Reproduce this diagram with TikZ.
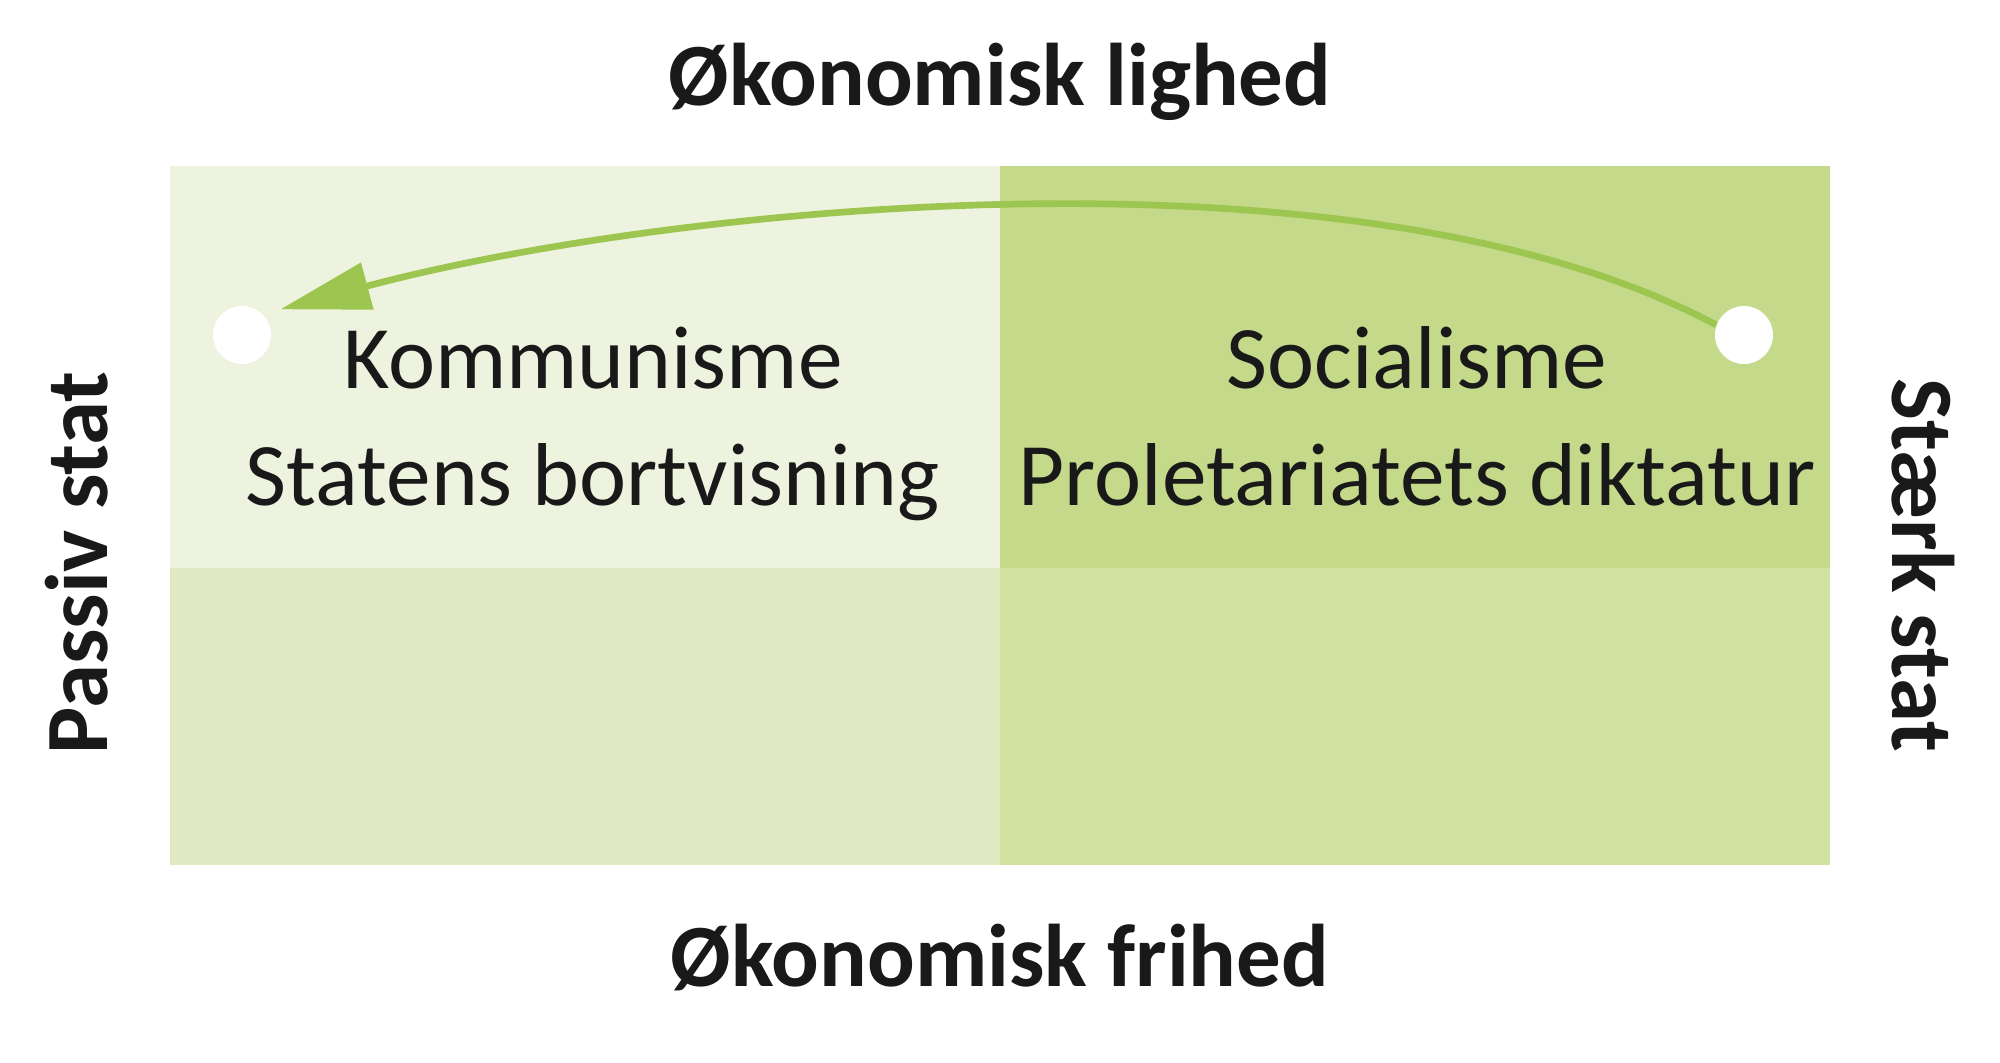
\documentclass[tikz,border=0pt]{standalone}
\usepackage{fontspec}
\setmainfont{Carlito}
\usetikzlibrary{positioning,arrows.meta}

\definecolor{lightgreen}{HTML}{EDF3DF}
\definecolor{midgreen}{HTML}{DFEAC3}
\definecolor{stronggreen}{HTML}{C5D98A}
\definecolor{softgreen}{HTML}{D2E2A1}
\definecolor{arrowgreen}{HTML}{9DC651}

\begin{document}
\begin{tikzpicture}
		% Define styles
		\tikzstyle{quad} = [rectangle, inner sep=0pt, outer sep=0pt, 
		minimum width=8.3cm]
		\tikzstyle{topquad} = [quad, minimum height=4.02cm]
		\tikzstyle{botquad} = [quad, minimum height=2.97cm]
		\tikzstyle{txt} = [align=center, font=\fontsize{25.4}{33.3}\selectfont, 
		text=black!90, inner sep=0pt, anchor=base]
		\tikzstyle{axis} = [font=\fontsize{25.3}{30}\selectfont\bfseries, 
		text=black!90, inner sep=0pt]
		\tikzstyle{dot} = [circle, fill=white, minimum size=0.58cm, inner sep=0pt]
		\tikzstyle{arrow} = [line width=1.9pt, arrowgreen, 
		-{Triangle[length=0.9cm,width=0.47cm]}]
		
		% Global settings
		\tikzstyle{every node}=[node distance=0cm]
		\useasboundingbox (0,0) rectangle (20,10.62);
		
		% Place nodes
		\node [topquad, fill=lightgreen, anchor=north west] (tl) at (1.7,8.96) {};
		\node [topquad, fill=stronggreen, right=of tl] (tr) {};
		\node [botquad, fill=midgreen, below=of tl] (bl) {};
		\node [botquad, fill=softgreen, below=of tr] (br) {};
		
		\node [txt] (komtext) at ([shift={(0.08,-3.4)}]tl.north) {Kommunisme\\Statens bortvisning};
		\node [txt] (soctext) at ([shift={(0.02,-3.4)}]tr.north) {Socialisme\\Proletariatets diktatur};
		
		\node [dot] (komdot) at ([shift={(0.72,-1.69)}]tl.north west) {};
		\node [dot] (socdot) at ([shift={(-0.86,-1.69)}]tr.north east) {};
		
		\node [axis, anchor=base] (lighed) at ([yshift=0.6cm]tl.north east) {Økonomisk lighed};
		\node [axis, anchor=base] (frihed) at ([yshift=-1.21cm]bl.south east) {Økonomisk frihed};
		\node [axis, anchor=base, rotate=90] (passiv) at ([shift={(-0.63,0.05)}]tl.south west) {Passiv stat};
		\node [axis, anchor=base, rotate=-90] (staerk) at ([shift={(0.62,0.03)}]tr.south east) {Stærk stat};
		
		% Draw arrows
		\draw [arrow, shorten >=0.18cm] (socdot.160) to[out=152, in=15, looseness=0.72] (komdot.45);
	\end{tikzpicture}
\end{document}
